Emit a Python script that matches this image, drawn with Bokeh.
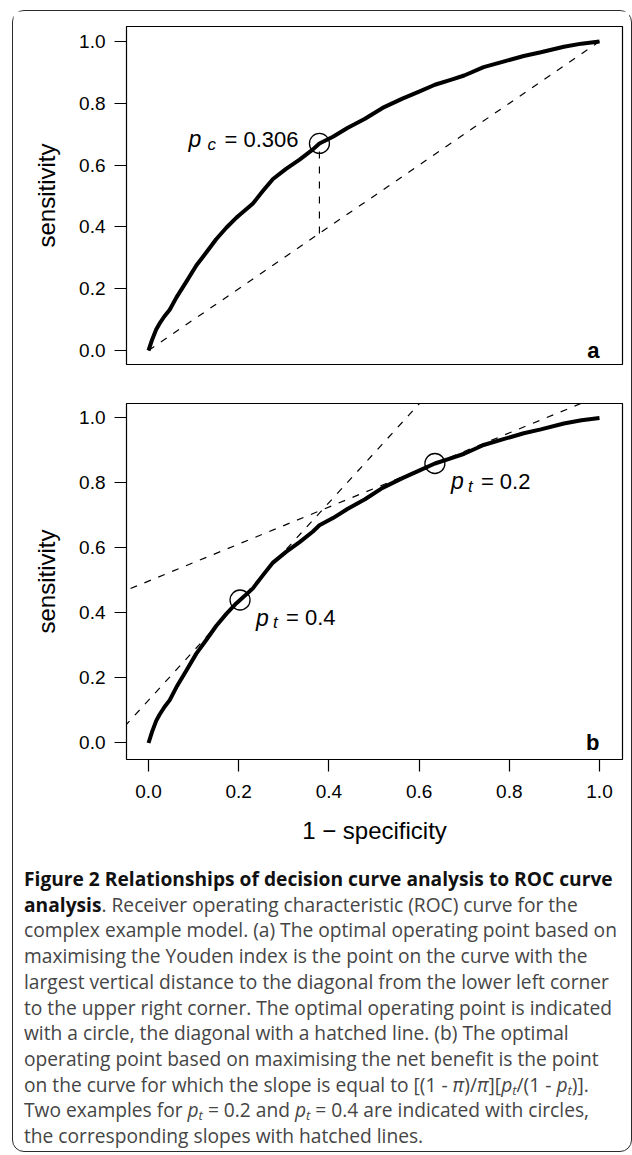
from bokeh.plotting import figure
from bokeh.models import FixedTicker, Slope, Div
from bokeh.layouts import column
from bokeh.embed import file_html
from bokeh.resources import INLINE
from bokeh.core.properties import value

# ROC curve: 1 - specificity (x) and sensitivity (y)
fpr = [0.0, 0.008, 0.017, 0.024, 0.035, 0.047, 0.062, 0.084, 0.106, 0.128,
       0.150, 0.173, 0.195, 0.203, 0.231, 0.253, 0.276, 0.305, 0.335, 0.364,
       0.379, 0.409, 0.441, 0.480, 0.519, 0.563, 0.600, 0.635, 0.670, 0.700,
       0.743, 0.787, 0.832, 0.870, 0.921, 0.960, 1.0]
tpr = [0.0, 0.035, 0.068, 0.086, 0.110, 0.132, 0.172, 0.223, 0.275, 0.317,
       0.360, 0.398, 0.430, 0.440, 0.475, 0.515, 0.555, 0.588, 0.618, 0.650,
       0.670, 0.692, 0.720, 0.750, 0.785, 0.815, 0.838, 0.860, 0.876, 0.890,
       0.917, 0.935, 0.953, 0.965, 0.983, 0.993, 1.0]

diag_x = [0.0, 1.0]
diag_y = [0.0, 1.0]

# panel a: Youden optimum
pc_text = "0.306"
pc_x = 0.379
pc_y = 0.670

# panel b: net-benefit optima and tangent slopes
pt_text = ["0.2", "0.4"]
pt_x = [0.635, 0.203]
pt_y = [0.860, 0.440]
pt_slope = [0.57, 1.52]

tick_values = [0.0, 0.2, 0.4, 0.6, 0.8, 1.0]
tick_labels = ["0.0", "0.2", "0.4", "0.6", "0.8", "1.0"]

FONT = "Liberation Sans"
DASH = "7 8"


def style_axis(ax, title):
    ax.ticker = FixedTicker(ticks=tick_values)
    ax.major_label_overrides = {v: s for v, s in zip(tick_values, tick_labels)}
    ax.axis_label = title
    ax.axis_label_text_font = FONT
    ax.axis_label_text_font_size = "24px"
    ax.axis_label_text_font_style = "normal"
    ax.axis_label_text_color = "black"
    ax.major_label_text_font = FONT
    ax.major_label_text_font_size = "19px"
    ax.major_label_text_color = "black"
    ax.axis_line_color = None
    ax.major_tick_out = 12
    ax.major_tick_in = 0
    ax.major_tick_line_color = "black"
    ax.major_tick_line_width = 1.2
    ax.minor_tick_line_color = None


def make_fig(height, yr, top, bottom, with_x):
    p = figure(width=616, height=height, x_range=(-0.0488, 1.051), y_range=yr,
               output_backend="svg", toolbar_location=None,
               x_axis_location="below" if with_x else None,
               min_border_left=113, min_border_right=7,
               min_border_top=top, min_border_bottom=bottom,
               background_fill_color="white", border_fill_color="white",
               outline_line_color="black", outline_line_width=1.2)
    p.grid.visible = False
    style_axis(p.yaxis[0], "sensitivity")
    p.yaxis[0].major_label_standoff = 9
    p.yaxis[0].axis_label_standoff = 16
    if with_x:
        style_axis(p.xaxis[0], "1 \u2212 specificity")
        p.xaxis[0].major_label_standoff = 13
        p.xaxis[0].axis_label_standoff = 16
    return p


def sub_label(p, x, y, dx, dy, sub, val):
    p.text(x=x, y=y, text=["p"] * len(x), x_offset=dx[0], y_offset=dy[0],
           text_font=value(FONT), text_font_style="italic", text_font_size="23px",
           text_baseline="alphabetic", text_align="left", text_color="black")
    p.text(x=x, y=y, text=[sub] * len(x), x_offset=dx[1], y_offset=dy[1],
           text_font=value(FONT), text_font_style="italic", text_font_size="17px",
           text_baseline="alphabetic", text_align="left", text_color="black")
    p.text(x=x, y=y, text=["= " + v for v in val], x_offset=dx[2], y_offset=dy[0],
           text_font=value(FONT), text_font_size="22px",
           text_baseline="alphabetic", text_align="left", text_color="black")


# ---- panel a ----
pa = make_fig(372, (-0.0453, 1.0485), 15, 19, False)
pa.line(diag_x, diag_y, line_color="black", line_width=1.2, line_dash=DASH)
pa.segment(x0=[pc_x], y0=[pc_x], x1=[pc_x], y1=[pc_y], line_color="black",
           line_width=1.2, line_dash=DASH)
pa.line(fpr, tpr, line_color="black", line_width=4, line_join="round")
pa.scatter([pc_x], [pc_y], marker="circle", size=20, fill_color=None,
           line_color="black", line_width=1.3)
sub_label(pa, [pc_x], [pc_y], (-131, -112, -95), (-4, 1), "c", [pc_text])
pa.text(x=[1.0], y=[0.0], text=["a"], text_align="right", text_baseline="alphabetic",
        text_font=value(FONT), text_font_style="bold", text_font_size="22px",
        text_color="black")

# ---- panel b ----
pb = make_fig(468, (-0.0508, 1.0446), 20, 92, True)
for x0, y0, s in zip(pt_x, pt_y, pt_slope):
    pb.add_layout(Slope(gradient=s, y_intercept=y0 - s * x0, line_color="black",
                        line_width=1.2, line_dash=DASH))
pb.line(fpr, tpr, line_color="black", line_width=4, line_join="round")
pb.scatter(pt_x, pt_y, marker="circle", size=20, fill_color=None,
           line_color="black", line_width=1.3)
sub_label(pb, pt_x, pt_y, (16, 33, 46), (18, 23), "t", pt_text)
pb.text(x=[1.0], y=[0.0], text=["b"], text_align="right", text_baseline="alphabetic",
        text_font=value(FONT), text_font_style="bold", text_font_size="22px",
        text_color="black")

# ---- caption ----
B = "<b style='color:#111'>"
caption_lines = [
    B + "Figure 2 Relationships of decision curve analysis to ROC curve</b>",
    B + "analysis</b>. Receiver operating characteristic (ROC) curve for the",
    "complex example model. (a) The optimal operating point based on",
    "maximising the Youden index is the point on the curve with the",
    "largest vertical distance to the diagonal from the lower left corner",
    "to the upper right corner. The optimal operating point is indicated",
    "with a circle, the diagonal with a hatched line. (b) The optimal",
    "operating point based on maximising the net benefit is the point",
    "on the curve for which the slope is equal to [(1 - <i>&pi;</i>)/<i>&pi;</i>][<i>p<sub>t</sub></i>/(1 - <i>p<sub>t</sub></i>)].",
    "Two examples for <i>p<sub>t</sub></i> = 0.2 and <i>p<sub>t</sub></i> = 0.4 are indicated with circles,",
    "the corresponding slopes with hatched lines.",
]
SUB = "<span style='font-size:68%; line-height:1; position:relative; top:3px; vertical-align:baseline'>"
cap_html = ("<div style=\"font-family:'Open Sans'; font-size:19.2px; line-height:25.7px; "
            "color:#454545; white-space:nowrap; margin:10px 0 0 6px;\">"
            + "<br>".join(caption_lines).replace("<sub>", SUB).replace("</sub>", "</span>")
            + "</div>")
cap = Div(text=cap_html, width=616, height=298)

layout = column(pa, pb, cap, width=620, height=1142, margin=(10, 0, 0, 12),
                styles={"border": "1.5px solid #2b2b2b", "border-radius": "12px",
                        "box-sizing": "border-box", "background": "white"})

open("out.html", "w").write(file_html(layout, INLINE))
